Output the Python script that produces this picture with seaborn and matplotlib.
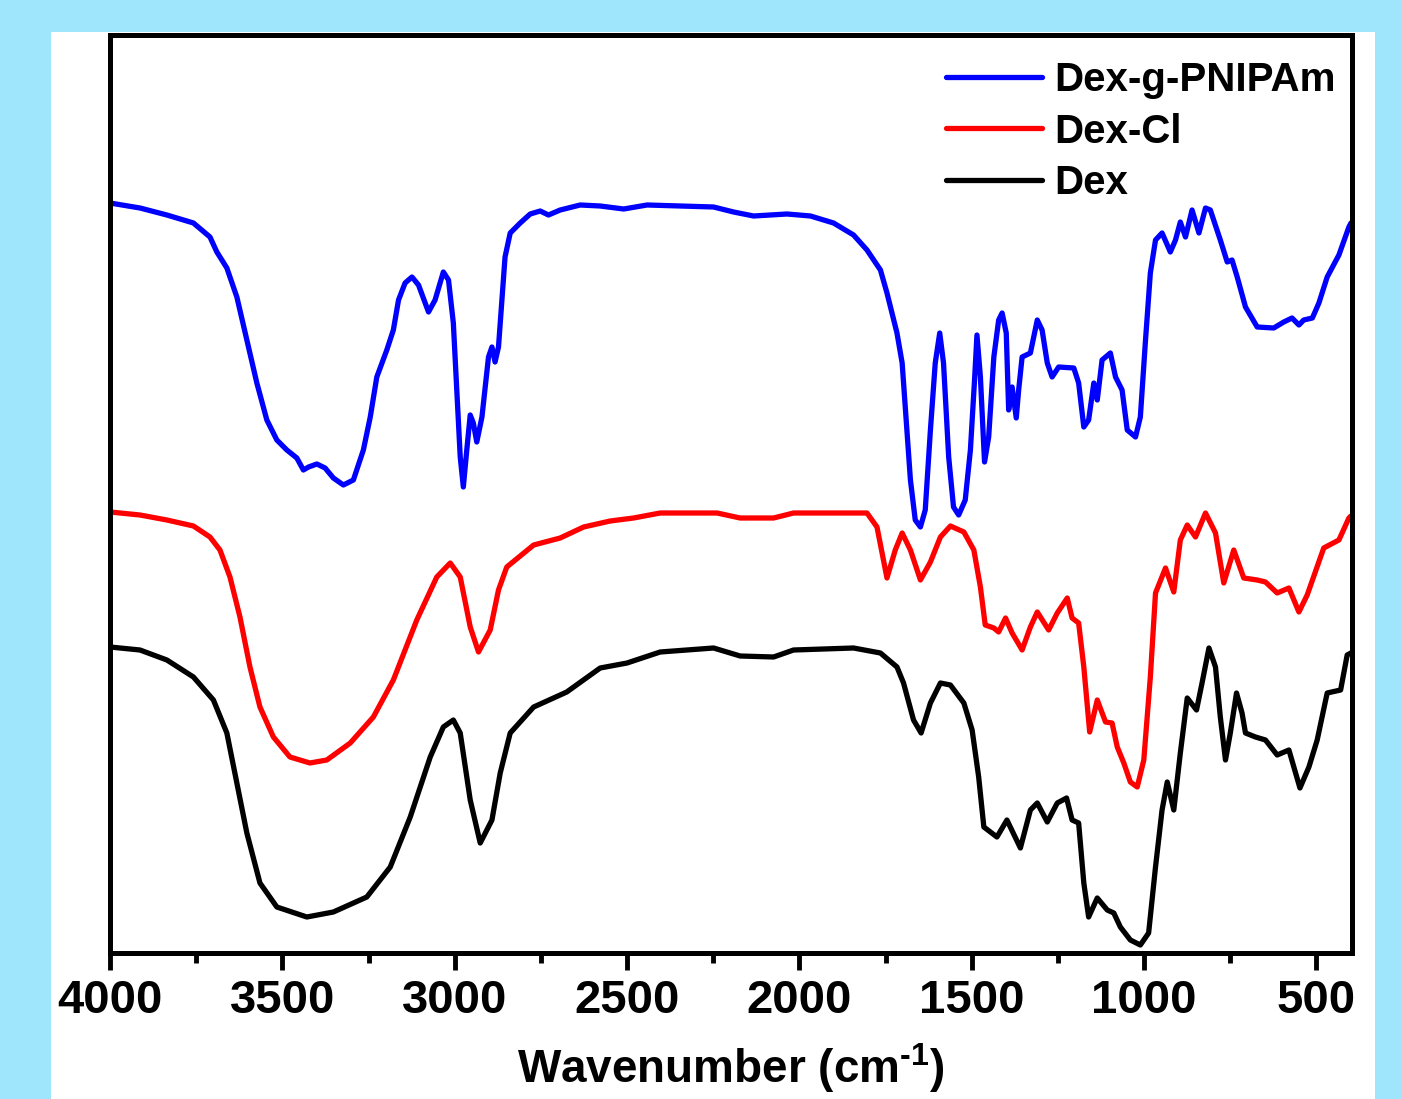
import matplotlib
matplotlib.use('Agg')
import matplotlib.pyplot as plt
import seaborn as sns
import pandas as pd
from matplotlib.patches import Rectangle
from matplotlib.ticker import MultipleLocator

# ---------------- data ----------------
wn_pnipam = [4000, 3913, 3835, 3758, 3710, 3690, 3661, 3632, 3603, 3574,
             3545, 3516, 3487, 3458, 3439, 3424, 3400, 3376, 3352, 3323,
             3294, 3265, 3245, 3226, 3197, 3178, 3163, 3144, 3124, 3105,
             3076, 3057, 3033, 3018, 3004, 2994, 2984, 2975, 2965, 2955,
             2946, 2936, 2921, 2902, 2892, 2883, 2873, 2863, 2854, 2839,
             2810, 2781, 2752, 2728, 2694, 2636, 2578, 2510, 2442, 2249,
             2191, 2133, 2036, 1968, 1901, 1843, 1804, 1765, 1746, 1717,
             1702, 1693, 1678, 1664, 1649, 1635, 1620, 1606, 1593, 1582,
             1567, 1553, 1538, 1519, 1504, 1492, 1485, 1475, 1463, 1451,
             1436, 1422, 1412, 1400, 1393, 1383, 1371, 1364, 1354, 1330,
             1310, 1296, 1281, 1267, 1248, 1204, 1190, 1175, 1161, 1146,
             1136, 1122, 1098, 1083, 1064, 1049, 1025, 1011, 996, 982,
             967, 948, 924, 909, 895, 880, 861, 841, 822, 808,
             779, 759, 745, 730, 706, 672, 624, 595, 571, 551,
             537, 512, 493, 469, 435, 406, 400]
t_pnipam = [750, 745, 738, 730, 716, 701, 685, 656, 613, 570,
            533, 513, 503, 495, 483, 486, 489, 485, 475, 468,
            473, 503, 536, 576, 603, 623, 653, 670, 676, 668,
            641, 653, 681, 673, 630, 563, 496, 466, 503, 538,
            530, 511, 536, 596, 606, 591, 606, 653, 696, 720,
            730, 739, 742, 738, 743, 748, 747, 744, 748, 746,
            741, 737, 739, 737, 730, 718, 703, 683, 660, 620,
            590, 546, 473, 433, 426, 443, 523, 590, 620, 590,
            496, 446, 438, 453, 503, 573, 618, 576, 491, 516,
            596, 633, 640, 620, 543, 566, 535, 563, 596, 600,
            633, 623, 590, 576, 586, 585, 570, 526, 533, 570,
            553, 593, 600, 576, 563, 523, 516, 536, 613, 680,
            713, 720, 701, 713, 731, 716, 743, 720, 745, 743,
            713, 691, 693, 676, 646, 626, 625, 631, 635, 628,
            633, 635, 650, 676, 698, 726, 730]

wn_dexcl = [4000, 3913, 3835, 3758, 3710, 3681, 3652, 3623, 3594, 3565,
            3526, 3478, 3420, 3371, 3303, 3236, 3178, 3110, 3052, 3013,
            2984, 2955, 2931, 2897, 2873, 2849, 2771, 2694, 2626, 2549,
            2481, 2404, 2239, 2172, 2075, 2017, 1901, 1804, 1775, 1746,
            1722, 1702, 1678, 1649, 1620, 1591, 1562, 1523, 1494, 1475,
            1461, 1436, 1422, 1402, 1383, 1354, 1330, 1310, 1277, 1252,
            1223, 1209, 1190, 1175, 1158, 1136, 1112, 1093, 1078, 1059,
            1040, 1020, 1001, 982, 967, 938, 914, 895, 875, 851,
            822, 793, 769, 740, 711, 672, 648, 614, 580, 551,
            527, 479, 435, 406, 400]
t_dexcl = [441, 438, 433, 427, 416, 403, 376, 336, 286, 246,
           216, 196, 190, 193, 210, 236, 273, 333, 376, 390,
           376, 326, 301, 323, 363, 386, 408, 415, 426, 432,
           435, 440, 440, 435, 435, 440, 440, 440, 426, 375,
           403, 420, 403, 373, 391, 416, 427, 421, 403, 366,
           328, 325, 321, 335, 320, 303, 326, 341, 323, 340,
           355, 335, 330, 286, 221, 253, 231, 230, 206, 190,
           171, 166, 193, 276, 360, 385, 361, 413, 428, 416,
           440, 420, 370, 403, 375, 373, 371, 360, 365, 341,
           358, 405, 413, 435, 437]

wn_dex = [4000, 3913, 3835, 3758, 3700, 3661, 3632, 3603, 3565, 3516,
          3429, 3352, 3255, 3187, 3129, 3071, 3033, 3004, 2984, 2955,
          2926, 2892, 2868, 2839, 2771, 2675, 2578, 2500, 2404, 2249,
          2172, 2075, 2017, 1843, 1765, 1717, 1698, 1669, 1647, 1620,
          1591, 1562, 1523, 1499, 1480, 1465, 1427, 1398, 1359, 1330,
          1310, 1281, 1252, 1225, 1209, 1190, 1175, 1161, 1136, 1107,
          1088, 1069, 1040, 1011, 987, 967, 948, 933, 914, 895,
          875, 848, 832, 812, 793, 779, 764, 750, 732, 716,
          706, 677, 648, 614, 580, 548, 522, 498, 469, 430,
          411, 400]
t_dex = [306, 303, 293, 276, 253, 220, 170, 120, 70, 46,
         36, 41, 56, 86, 136, 196, 226, 233, 220, 153,
         110, 133, 180, 220, 246, 261, 285, 290, 301, 305,
         297, 296, 303, 305, 300, 286, 270, 233, 220, 250,
         270, 268, 250, 223, 176, 126, 116, 133, 105, 143,
         150, 131, 150, 155, 133, 130, 70, 36, 55, 43,
         40, 26, 13, 8, 20, 86, 143, 171, 143, 200,
         255, 243, 270, 305, 286, 236, 193, 220, 260, 240,
         220, 216, 213, 198, 203, 165, 186, 213, 260, 263,
         298, 300]

series_names = ["Dex-g-PNIPAm", "Dex-Cl", "Dex"]
series_colors = ["#0000ff", "#ff0000", "#000000"]
x_ticks = [4000, 3500, 3000, 2500, 2000, 1500, 1000, 500]

# ---------------- style ----------------
sns.set_style('ticks')
plt.rcParams['font.family'] = ['Liberation Sans', 'DejaVu Sans']
plt.rcParams['font.weight'] = 'bold'
plt.rcParams['text.color'] = 'black'
plt.rcParams['axes.labelcolor'] = 'black'
plt.rcParams['xtick.color'] = 'black'
plt.rcParams['mathtext.fontset'] = 'custom'
plt.rcParams['mathtext.rm'] = 'Liberation Sans:bold'
plt.rcParams['mathtext.bf'] = 'Liberation Sans:bold'
plt.rcParams['mathtext.default'] = 'bf'

W, H = 1402, 1099
fig = plt.figure(figsize=(W / 100, H / 100), dpi=100, facecolor='#9fe5fc')
fig.patches.append(Rectangle((51 / W, 0), 1324 / W, 1067 / H,
                             transform=fig.transFigure, facecolor='white',
                             edgecolor='none', zorder=-1))
ax = fig.add_axes([110 / W, 146 / H, 1242 / W, 918 / H])
ax.set_facecolor('white')

data = [(wn_pnipam, t_pnipam), (wn_dexcl, t_dexcl), (wn_dex, t_dex)]
for (wn, t), name, col in zip(data, series_names, series_colors):
    df = pd.DataFrame({'wn': wn, 't': t})
    sns.lineplot(data=df, x='wn', y='t', ax=ax, color=col, linewidth=3.8,
                 label=name, estimator=None, sort=True)
for ln in ax.get_lines():
    ln.set_solid_joinstyle('round')
    ln.set_solid_capstyle('round')

ax.set_xlim(4000, 397)
ax.set_ylim(0, 918)
ax.set_xticks(x_ticks)
ax.xaxis.set_minor_locator(MultipleLocator(250))
ax.set_yticks([])
ax.set_ylabel('')
ax.tick_params(axis='x', which='major', direction='out', length=12, width=3.5,
               labelsize=34, pad=7, color='black', labelcolor='black')
ax.tick_params(axis='x', which='minor', direction='out', length=7, width=3.5,
               color='black')
for lab in ax.get_xticklabels():
    lab.set_fontweight('bold')
    lab.set_color('black')
for sp in ax.spines.values():
    sp.set_visible(True)
    sp.set_linewidth(3.6)
    sp.set_color('black')

ax.set_xlabel(r'Wavenumber (cm$^{\text{-1}}$)', fontsize=33,
              fontweight='bold', labelpad=13, color='black')

leg = ax.legend(loc='upper right', bbox_to_anchor=(1.0, 0.989),
                frameon=False, fontsize=29, handlelength=2.4,
                handletextpad=0.3, labelspacing=0.33, borderaxespad=0.0)
for txt in leg.get_texts():
    txt.set_fontweight('bold')
    txt.set_color('black')
for h in leg.get_lines():
    h.set_linewidth(3.8)

fig.savefig('out.png', dpi=100, facecolor=fig.get_facecolor())
